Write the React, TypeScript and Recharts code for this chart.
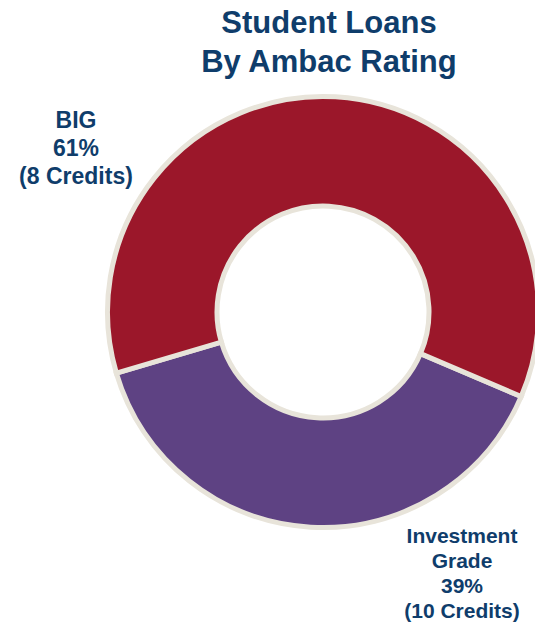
import { PieChart, Pie, Cell } from "recharts";

const titleLines = ["Student Loans", "By Ambac Rating"];
const categories = ["Investment Grade", "BIG"];
const shares = [39, 61];
const credits = [10, 8];
const COLORS: Record<string, string> = { "Investment Grade": "#5e4283", BIG: "#9b172a" };

const data = categories.map((name, i) => ({ name, value: shares[i], credits: credits[i] }));

const font = '"Liberation Sans", Arial, sans-serif';
const navy = "#0f3d6b";

function SliceLabel({ idx, style }: { idx: number; style: React.CSSProperties }) {
  const d = data[idx];
  return (
    <div style={{ position: "absolute", textAlign: "center", fontWeight: "bold", color: navy, fontFamily: font, ...style }}>
      {d.name.split(" ").map((w) => <div key={w}>{w}</div>)}
      <div>{d.value}%</div>
      <div>({d.credits} Credits)</div>
    </div>
  );
}

export default function App() {
  return (
    <div style={{ position: "absolute", left: 0, top: 0, width: 535, height: 624, overflow: "hidden" }}>
      <PieChart width={535} height={624}>
        <Pie
          data={data}
          dataKey="value"
          cx={318}
          cy={307}
          innerRadius={106}
          outerRadius={215.5}
          startAngle={196.5}
          endAngle={556.5}
          stroke="#e8e4da"
          strokeWidth={5}
          isAnimationActive={false}
        >
          {data.map((e) => <Cell key={e.name} fill={COLORS[e.name]} />)}
        </Pie>
      </PieChart>
      <div style={{ position: "absolute", left: 129, width: 400, top: 3, textAlign: "center", fontFamily: font, fontWeight: "bold", fontSize: 31, lineHeight: "39px", color: navy }}>
        {titleLines.map((t) => <div key={t}>{t}</div>)}
      </div>
      <SliceLabel idx={1} style={{ left: -24, width: 200, top: 106, fontSize: 23, lineHeight: "28px" }} />
      <SliceLabel idx={0} style={{ left: 362, width: 200, top: 523, fontSize: 21, lineHeight: "25px" }} />
    </div>
  );
}
